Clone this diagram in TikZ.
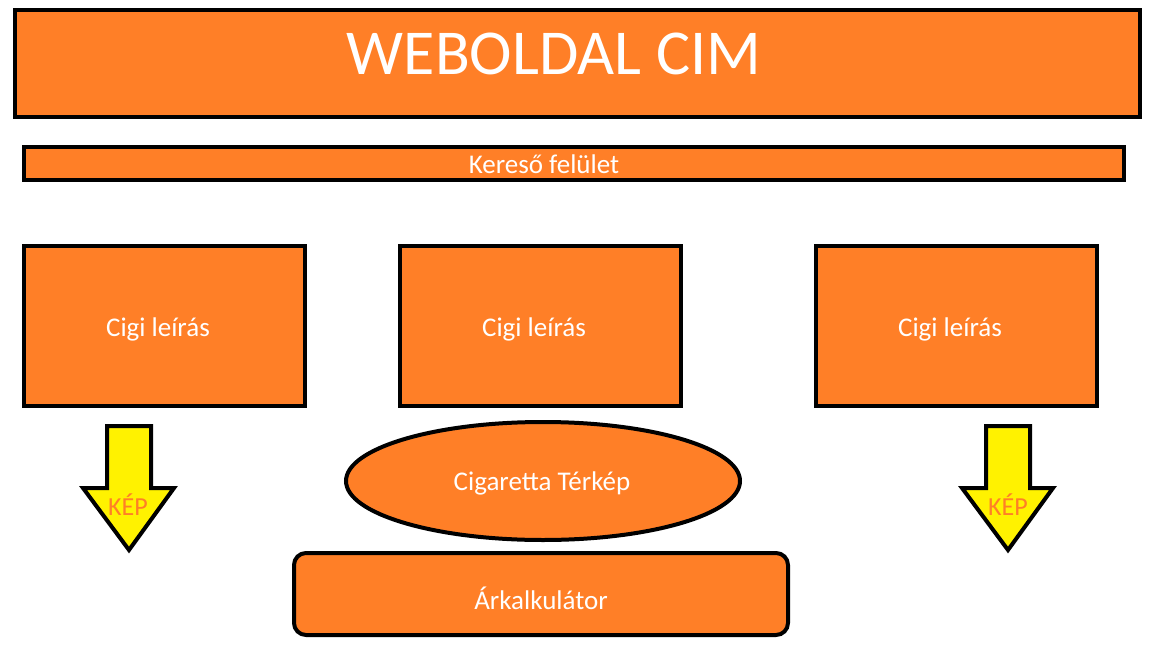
\documentclass[tikz,border=0pt]{standalone}
\usepackage{fontspec}
\setmainfont{Carlito}
\definecolor{boxorange}{HTML}{FF7F27}
\definecolor{arrowyellow}{HTML}{FFF200}
\tikzset{
  obox/.style={draw=black, line width=4pt, fill=boxorange},
  wtext/.style={text=white, font=\fontsize{27}{30}\selectfont},
  karrow/.style={draw=black, line width=4pt, fill=arrowyellow, line join=miter},
  keptext/.style={text=boxorange, font=\fontsize{26}{30}\selectfont}
}
\begin{document}
\begin{tikzpicture}[x=1pt,y=-1pt]
\useasboundingbox (0,0) rectangle (1152,648);
\fill[white] (0,0) rectangle (1152,648);
% title
\draw[obox] (15,10) rectangle (1140,117);
\node[text=white, font=\fontsize{64}{68}\selectfont] (title) at (554,54) {WEBOLDAL CIM};
% search bar
\draw[obox] (24,147) rectangle (1124,180);
\node[wtext] (search) at (544,164) {Kereső felület};
% description boxes
\draw[obox] (24,246) rectangle (305,406);
\node[wtext] (d1) at (158,329) {Cigi leírás};
\draw[obox] (400,246) rectangle (681,406);
\node[wtext] (d2) at (534,329) {Cigi leírás};
\draw[obox] (816,246) rectangle (1097,406);
\node[wtext] (d3) at (950,329) {Cigi leírás};
% arrows
\draw[karrow] (107,426) -- (151,426) -- (151,488) -- (174,488) -- (129,550) -- (83,488) -- (107,488) -- cycle;
\node[keptext] (k1) at (128,505) {KÉP};
\draw[karrow] (986,426) -- (1030,426) -- (1030,488) -- (1053,488) -- (1008,550) -- (962,488) -- (986,488) -- cycle;
\node[keptext] (k2) at (1008,505) {KÉP};
% ellipse
\draw[obox] (543,481) ellipse [x radius=197, y radius=59];
\node[wtext] (map) at (542,483) {Cigaretta Térkép};
% calculator
\draw[obox, rounded corners=12pt] (294,553) rectangle (788,635);
\node[wtext] (calc) at (541,598) {Árkalkulátor};
\end{tikzpicture}
\end{document}
